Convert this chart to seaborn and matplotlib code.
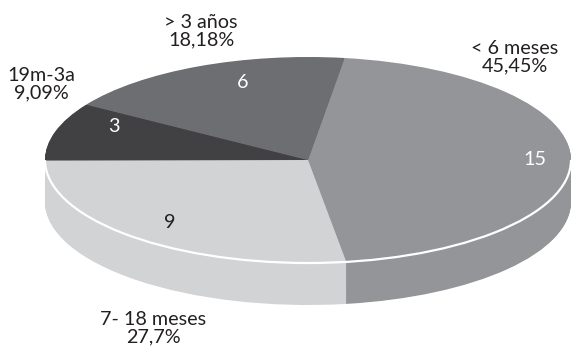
import numpy as np
import matplotlib
matplotlib.use("Agg")
import matplotlib.pyplot as plt
import seaborn as sns
from matplotlib.patches import Arc

sns.set_theme(style="white")
plt.rcParams['font.family'] = ['Lato', 'DejaVu Sans']

# ---- data ----
categories = ["< 6 meses", "7- 18 meses", "19m-3a", "> 3 años"]
values = [15, 9, 3, 6]
pct_labels = ["45,45%", "27,7%", "9,09%", "18,18%"]
colors = ["#939598", "#d1d3d4", "#414042", "#6d6e71"]
value_text_colors = ["white", "#231f20", "white", "white"]

# ---- layout (pixel positions in the 572x355 figure) ----
W, H = 572, 355
CX, CY, A, B = 308, 160, 263, 103        # ellipse centre / semi axes in px
outer_pos = [(515, 57), (153, 328), (41, 84), (201, 31)]
inner_pos = [(535, 159), (170, 222), (114, 126), (243, 83)]
START = 82
DEPTH = 42 / B
TEXT = "#231f20"
FS = 14.2

fig = plt.figure(figsize=(W / 100, H / 100), dpi=100)
ax = fig.add_axes([0, 0, 1, 1])

# side wall: stacked copies of the pie shifted downward
for d in np.linspace(DEPTH, 0, 60):
    ax.pie(values, startangle=START, counterclock=False, colors=colors,
           center=(0, -d), radius=1,
           wedgeprops=dict(linewidth=0, antialiased=True))

# white rim between top face and side
ax.add_patch(Arc((0, 0), 2, 2, theta1=180, theta2=360, color="white",
                 lw=1.6, zorder=5))

ax.set_aspect("auto")
ax.set_xlim(-CX / A, (W - CX) / A)
ax.set_ylim((CY - H) / B, CY / B)
ax.axis("off")

for cat, pct, (px, py) in zip(categories, pct_labels, outer_pos):
    fig.text(px / W, 1 - py / H, f"{cat}\n{pct}", ha="center", va="center",
             multialignment="center", fontsize=FS, color=TEXT,
             linespacing=1.02)

for v, c, (px, py) in zip(values, value_text_colors, inner_pos):
    fig.text(px / W, 1 - py / H, str(v), ha="center", va="center",
             fontsize=FS, color=c)

fig.savefig("out.png", dpi=100)
